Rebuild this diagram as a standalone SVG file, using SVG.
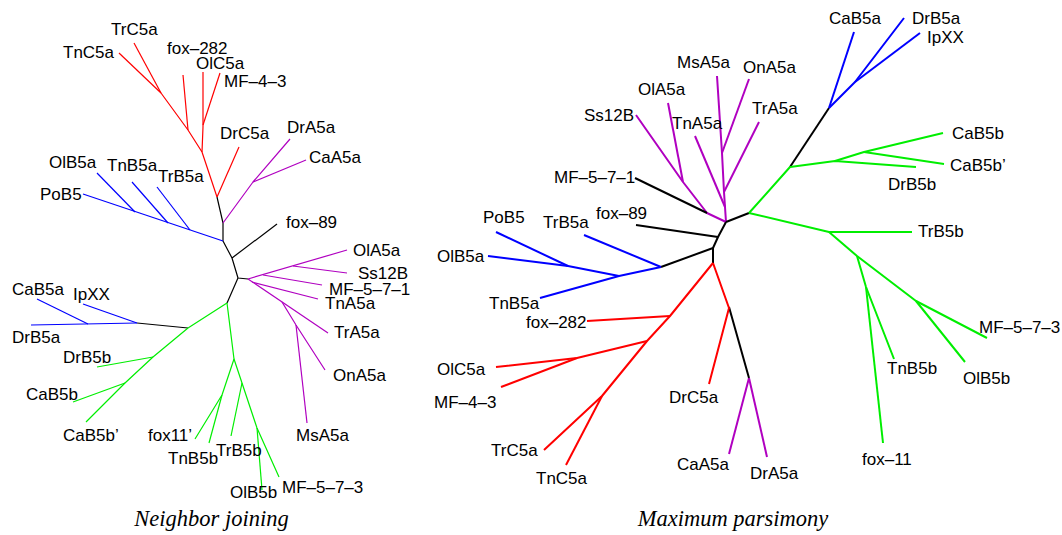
<svg xmlns="http://www.w3.org/2000/svg" width="1062" height="535" viewBox="0 0 1062 535">
<style>
.l{font-family:"Liberation Sans",Arial,sans-serif;font-size:17px;fill:#000}
.cap{font-family:"Liberation Serif","Times New Roman",serif;font-style:italic;font-size:22.5px;fill:#000;text-anchor:middle}
.e{fill:none;stroke-linejoin:round;stroke-linecap:butt}
.nj{stroke-width:1.2}
.mp{stroke-width:2}
.r{stroke:#ff0000}.b{stroke:#0000ff}.g{stroke:#00ee00}.p{stroke:#b000c0}.k{stroke:#000}
</style>
<rect width="1062" height="535" fill="#fff"/>
<g id="connectors">
<g id="nj-edges" class="e nj">
<polyline class="r" points="119,53 161,93"/>
<polyline class="r" points="134,43 161,93"/>
<polyline class="r" points="161,93 188,130 202,152 217,197"/>
<polyline class="r" points="183,75 188,130"/>
<polyline class="r" points="203,72 203,127 202,152"/>
<polyline class="r" points="220,73 203,125"/>
<polyline class="r" points="239,147 217,197"/>
<polyline class="k" points="217,197 223,223 223,241 232,258 238,278 248,279"/>
<polyline class="k" points="232,258 277,224"/>
<polyline class="k" points="238,278 227,303"/>
<polyline class="k" points="188,328 137,323"/>
<polyline class="p" points="223,223 253,182 290,139"/>
<polyline class="p" points="253,182 306,160"/>
<polyline class="p" points="248,279 347,250"/>
<polyline class="p" points="293,266 347,273"/>
<polyline class="p" points="263,275 322,285"/>
<polyline class="p" points="252,282 318,299"/>
<polyline class="p" points="248,279 328,333"/>
<polyline class="p" points="282,302 296,325 325,370"/>
<polyline class="p" points="296,325 307,423"/>
<polyline class="b" points="223,241 83,194"/>
<polyline class="b" points="135,212 97,173"/>
<polyline class="b" points="168,223 132,182"/>
<polyline class="b" points="190,230 157,187"/>
<polyline class="b" points="137,323 31,325"/>
<polyline class="b" points="137,323 83,304"/>
<polyline class="b" points="88,324 37,299"/>
<polyline class="g" points="227,303 188,328 153,357 125,383 86,422"/>
<polyline class="g" points="153,357 97,367"/>
<polyline class="g" points="125,383 73,402"/>
<polyline class="g" points="227,303 234,359 257,428 279,477"/>
<polyline class="g" points="234,359 222,395 195,439"/>
<polyline class="g" points="222,395 209,443"/>
<polyline class="g" points="242,383 231,436"/>
<polyline class="g" points="257,428 262,490"/>
</g>
<g id="mp-edges" class="e mp">
<polyline class="p" points="636,115 683,182 707,213 726,222"/>
<polyline class="p" points="668,103 683,182"/>
<polyline class="p" points="717,76 722,153 724,192 726,222"/>
<polyline class="p" points="749,79 722,153"/>
<polyline class="p" points="759,122 724,192"/>
<polyline class="p" points="695,136 725,207"/>
<polyline class="p" points="749,378 729,454"/>
<polyline class="p" points="749,378 767,457"/>
<polyline class="k" points="635,178 707,213"/>
<polyline class="k" points="726,222 749,213"/>
<polyline class="k" points="726,222 718,237 713,248 713,263"/>
<polyline class="k" points="636,225 718,237"/>
<polyline class="k" points="713,248 661,267"/>
<polyline class="k" points="729,307 749,378"/>
<polyline class="k" points="790,167 829,108"/>
<polyline class="b" points="661,267 619,276 540,298"/>
<polyline class="b" points="619,276 568,266 488,256"/>
<polyline class="b" points="568,266 496,232"/>
<polyline class="b" points="584,235 661,267"/>
<polyline class="b" points="829,108 854,32"/>
<polyline class="b" points="829,108 855,82 904,18"/>
<polyline class="b" points="855,82 920,33"/>
<polyline class="r" points="713,263 670,316 647,341 602,396 544,450"/>
<polyline class="r" points="602,396 566,465"/>
<polyline class="r" points="587,321 670,316"/>
<polyline class="r" points="496,367 577,358 647,341"/>
<polyline class="r" points="501,387 577,358"/>
<polyline class="r" points="713,263 729,308 709,384"/>
<polyline class="g" points="749,213 790,167 835,161 916,167"/>
<polyline class="g" points="835,161 864,152 943,133"/>
<polyline class="g" points="864,152 944,164"/>
<polyline class="g" points="749,213 829,232 912,232"/>
<polyline class="g" points="829,232 857,256 916,301 987,338"/>
<polyline class="g" points="916,301 965,362"/>
<polyline class="g" points="857,256 866,287 894,359"/>
<polyline class="g" points="866,287 883,443"/>
</g>
</g>
<g id="nj-nodes" class="l">
<g id="nj-TrC5a"><text x="111" y="35">TrC5a</text></g>
<g id="nj-TnC5a"><text x="63" y="58">TnC5a</text></g>
<g id="nj-fox-282"><text x="167" y="54">fox–282</text></g>
<g id="nj-OlC5a"><text x="196" y="69">OlC5a</text></g>
<g id="nj-MF-4-3"><text x="224" y="87">MF–4–3</text></g>
<g id="nj-DrC5a"><text x="220" y="139">DrC5a</text></g>
<g id="nj-DrA5a"><text x="287" y="133">DrA5a</text></g>
<g id="nj-CaA5a"><text x="309" y="163">CaA5a</text></g>
<g id="nj-OlB5a"><text x="49" y="168">OlB5a</text></g>
<g id="nj-TnB5a"><text x="107" y="171">TnB5a</text></g>
<g id="nj-TrB5a"><text x="158" y="182">TrB5a</text></g>
<g id="nj-PoB5"><text x="40" y="200">PoB5</text></g>
<g id="nj-fox-89"><text x="286" y="228">fox–89</text></g>
<g id="nj-OlA5a"><text x="353" y="256">OlA5a</text></g>
<g id="nj-Ss12B"><text x="358" y="279">Ss12B</text></g>
<g id="nj-MF-5-7-1"><text x="329" y="295">MF–5–7–1</text></g>
<g id="nj-TnA5a"><text x="325" y="309">TnA5a</text></g>
<g id="nj-TrA5a"><text x="334" y="338">TrA5a</text></g>
<g id="nj-OnA5a"><text x="333" y="381">OnA5a</text></g>
<g id="nj-MsA5a"><text x="296" y="441">MsA5a</text></g>
<g id="nj-CaB5a"><text x="12" y="295">CaB5a</text></g>
<g id="nj-IpXX"><text x="73" y="300">IpXX</text></g>
<g id="nj-DrB5a"><text x="12" y="343">DrB5a</text></g>
<g id="nj-DrB5b"><text x="63" y="363">DrB5b</text></g>
<g id="nj-CaB5b"><text x="26" y="400">CaB5b</text></g>
<g id="nj-CaB5b2"><text x="63" y="441">CaB5b’</text></g>
<g id="nj-fox11"><text x="148" y="441">fox11’</text></g>
<g id="nj-TnB5b"><text x="168" y="464">TnB5b</text></g>
<g id="nj-TrB5b"><text x="216" y="456">TrB5b</text></g>
<g id="nj-OlB5b"><text x="230" y="498">OlB5b</text></g>
<g id="nj-MF-5-7-3"><text x="282" y="493">MF–5–7–3</text></g>
</g>
<g id="mp-nodes" class="l">
<g id="mp-MsA5a"><text x="677" y="68">MsA5a</text></g>
<g id="mp-OnA5a"><text x="743" y="73">OnA5a</text></g>
<g id="mp-OlA5a"><text x="638" y="95">OlA5a</text></g>
<g id="mp-Ss12B"><text x="584" y="121">Ss12B</text></g>
<g id="mp-TnA5a"><text x="672" y="129">TnA5a</text></g>
<g id="mp-TrA5a"><text x="752" y="114">TrA5a</text></g>
<g id="mp-MF-5-7-1"><text x="554" y="183">MF–5–7–1</text></g>
<g id="mp-PoB5"><text x="483" y="223">PoB5</text></g>
<g id="mp-TrB5a"><text x="543" y="228">TrB5a</text></g>
<g id="mp-fox-89"><text x="596" y="219">fox–89</text></g>
<g id="mp-OlB5a"><text x="437" y="262">OlB5a</text></g>
<g id="mp-TnB5a"><text x="489" y="309">TnB5a</text></g>
<g id="mp-fox-282"><text x="526" y="328">fox–282</text></g>
<g id="mp-OlC5a"><text x="437" y="375">OlC5a</text></g>
<g id="mp-MF-4-3"><text x="434" y="408">MF–4–3</text></g>
<g id="mp-TrC5a"><text x="491" y="456">TrC5a</text></g>
<g id="mp-TnC5a"><text x="536" y="484">TnC5a</text></g>
<g id="mp-DrC5a"><text x="669" y="403">DrC5a</text></g>
<g id="mp-CaA5a"><text x="677" y="470">CaA5a</text></g>
<g id="mp-DrA5a"><text x="750" y="479">DrA5a</text></g>
<g id="mp-CaB5a"><text x="829" y="24">CaB5a</text></g>
<g id="mp-DrB5a"><text x="912" y="24">DrB5a</text></g>
<g id="mp-IpXX"><text x="927" y="43">IpXX</text></g>
<g id="mp-CaB5b"><text x="952" y="139">CaB5b</text></g>
<g id="mp-CaB5b2"><text x="950" y="171">CaB5b’</text></g>
<g id="mp-DrB5b"><text x="888" y="190">DrB5b</text></g>
<g id="mp-TrB5b"><text x="918" y="237">TrB5b</text></g>
<g id="mp-MF-5-7-3"><text x="979" y="333">MF–5–7–3</text></g>
<g id="mp-TnB5b"><text x="887" y="374">TnB5b</text></g>
<g id="mp-OlB5b"><text x="963" y="384">OlB5b</text></g>
<g id="mp-fox-11"><text x="862" y="465">fox–11</text></g>
</g>
<g id="captions">
<text class="cap" x="211.5" y="526">Neighbor joining</text>
<text class="cap" x="733" y="526">Maximum parsimony</text>
</g>
</svg>
